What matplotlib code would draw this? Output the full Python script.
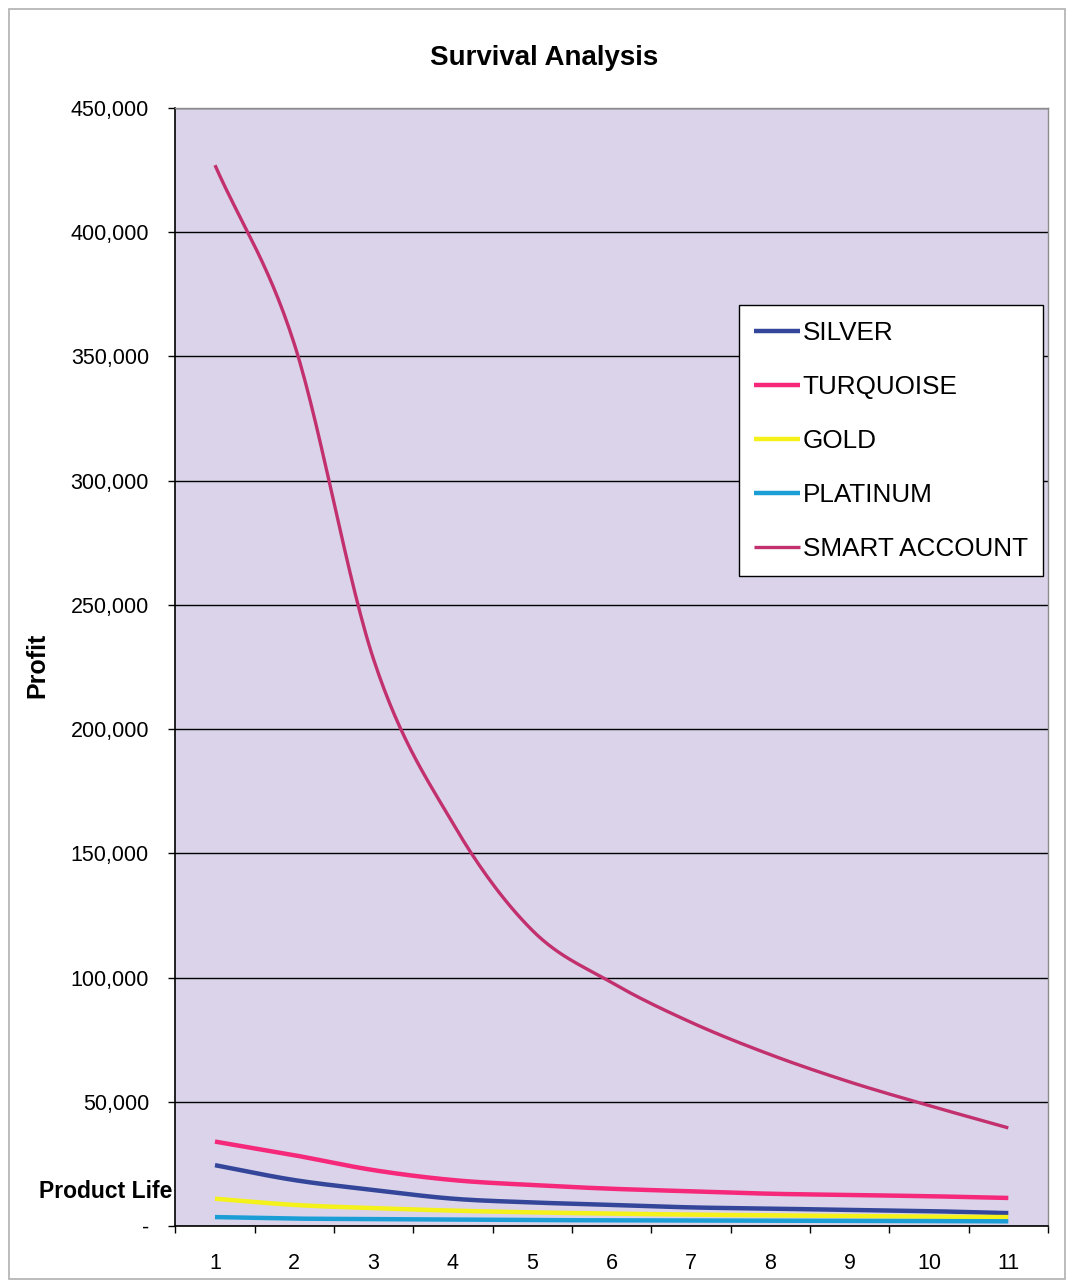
import numpy as np
import matplotlib
matplotlib.use('Agg')
from matplotlib import pyplot as plt
from matplotlib.ticker import FuncFormatter, FixedLocator
from matplotlib.patches import Rectangle

plt.rcParams['font.family'] = ['Liberation Sans', 'DejaVu Sans']

# product life (years) and profit per product line
years = [1, 2, 3, 4, 5, 6, 7, 8, 9, 10, 11]
silver = [24500, 18500, 14500, 11000, 9500, 8500, 7500, 7000, 6500, 6000, 5200]
turquoise = [34000, 28500, 22500, 18500, 16500, 15000, 14000, 13000, 12500, 12000, 11300]
gold = [11000, 8500, 7200, 6200, 5500, 5000, 4600, 4300, 4000, 3800, 3600]
platinum = [3600, 3000, 2800, 2600, 2400, 2300, 2200, 2100, 2000, 2000, 1900]
smart = [427000, 355000, 228000, 162000, 119000, 98000, 82000, 69000, 58000, 48500, 39500]

names = ['SILVER', 'TURQUOISE', 'GOLD', 'PLATINUM', 'SMART ACCOUNT']
colors = ['#34469a', '#f5287a', '#f4f21a', '#1b9ed6', '#c2306e']
widths = [3.2, 3.2, 3.2, 3.2, 2.4]


def smooth(x, y, n=30):
    # Catmull-Rom curve through the points, like a spreadsheet "smoothed line"
    x = np.asarray(x, float)
    y = np.asarray(y, float)
    px = np.concatenate([[2 * x[0] - x[1]], x, [2 * x[-1] - x[-2]]])
    py = np.concatenate([[2 * y[0] - y[1]], y, [2 * y[-1] - y[-2]]])
    xs, ys = [], []
    for i in range(1, len(px) - 2):
        t = np.linspace(0, 1, n, endpoint=False)
        for p, out in ((px, xs), (py, ys)):
            p0, p1, p2, p3 = p[i - 1], p[i], p[i + 1], p[i + 2]
            out.extend(0.5 * (2 * p1 + (-p0 + p2) * t
                              + (2 * p0 - 5 * p1 + 4 * p2 - p3) * t ** 2
                              + (-p0 + 3 * p1 - 3 * p2 + p3) * t ** 3))
    xs.append(x[-1])
    ys.append(y[-1])
    return np.array(xs), np.array(ys)


fig = plt.figure(figsize=(10.71, 12.83), dpi=100)
fig.patches.append(Rectangle((0.008, 0.003), 0.986, 0.99, transform=fig.transFigure,
                             fill=False, edgecolor='#b0b0b0', linewidth=1.2))
ax = fig.add_axes([0.1637, 0.0444, 0.8148, 0.8714])
ax.set_facecolor('#dad3ea')

for data, name, c, lw in zip([silver, turquoise, gold, platinum, smart], names, colors, widths):
    sx, sy = smooth(years, data)
    ax.plot(sx, sy, color=c, linewidth=lw, label=name, solid_capstyle='butt')

ax.set_xlim(0.5, 11.5)
ax.set_ylim(0, 450000)
ax.set_yticks(np.arange(0, 450001, 50000))
ax.yaxis.set_major_formatter(FuncFormatter(lambda v, p: '-' if v == 0 else f'{int(v):,}'))
ax.grid(axis='y', color='black', linewidth=1.0)
ax.set_axisbelow(True)

ax.set_xticks(years)
ax.xaxis.set_minor_locator(FixedLocator(np.arange(0.5, 12, 1)))
ax.tick_params(axis='x', which='major', length=0, pad=19.5, labelsize=15.5)
ax.tick_params(axis='x', which='minor', length=5, width=1)
ax.tick_params(axis='y', length=5, width=1, pad=14, labelsize=15.5)

for s in ['left', 'bottom']:
    ax.spines[s].set_color('black')
    ax.spines[s].set_linewidth(1.2)
for s in ['top', 'right']:
    ax.spines[s].set_color('#8c8c8c')
    ax.spines[s].set_linewidth(1.0)

leg = ax.legend(loc='upper right', bbox_to_anchor=(0.9947, 0.8238), fontsize=18.8,
                frameon=True, fancybox=False, edgecolor='black', framealpha=1,
                handlelength=1.75, handletextpad=0.1, labelspacing=1.15,
                borderpad=0.6, borderaxespad=0)
leg.get_frame().set_linewidth(1.0)

fig.text(544 / 1071, 1 - 58 / 1283, 'Survival Analysis', ha='center', va='center',
         fontsize=20, fontweight='bold')
fig.text(37 / 1071, 1 - 665 / 1283, 'Profit', ha='center', va='center', rotation=90,
         fontsize=18, fontweight='bold')
fig.text(172 / 1071, 1 - 1192 / 1283, 'Product Life', ha='right', va='center',
         fontsize=16.5, fontweight='bold')

plt.savefig('out.png', dpi=100)
